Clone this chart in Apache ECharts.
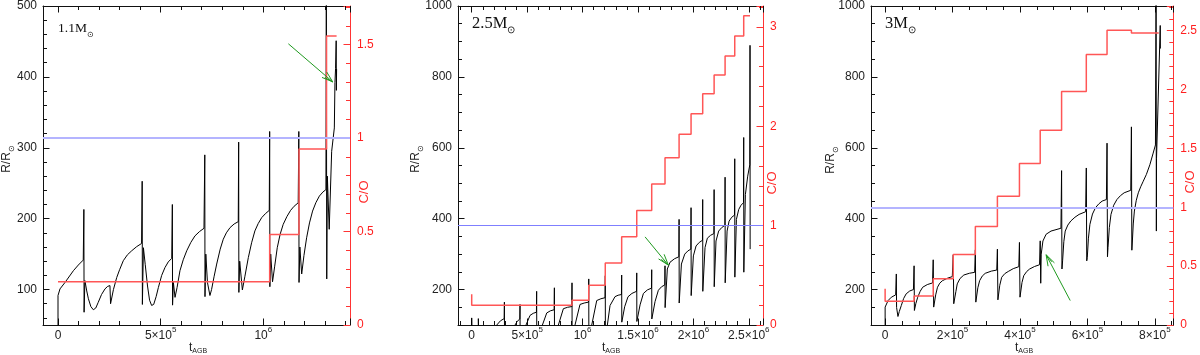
<!DOCTYPE html>
<html><head><meta charset="utf-8">
<script src="https://cdn.jsdelivr.net/npm/echarts@6/dist/echarts.min.js"></script>
<style>html,body{margin:0;padding:0;background:#fff;}#c{width:1200px;height:355px;}</style>
</head><body><div id="c"></div>
<script>
// ---------------- DATA ----------------
// Panel 1 : 1.1 Msun   [t_AGB (yr), R/Rsun]
const radius1 = [[0,40],[0,91.6],[0.0097e6,100.9],[0.034e6,110],[0.075e6,126.6],[0.099e6,134.6],[0.123e6,141.6],
 [0.126e6,213],[0.127e6,68],[0.131e6,112.6],[0.14e6,98],[0.148e6,87],[0.16e6,76],[0.172e6,71.5],[0.184e6,74],[0.196e6,82],[0.212e6,93],[0.229e6,101],[0.242e6,104.5],[0.253e6,105.6],
 [0.256e6,80],[0.270e6,100],[0.286e6,117],[0.300e6,128],[0.318e6,140.7],[0.338e6,149],[0.359e6,154.7],[0.383e6,160.5],[0.407e6,165],
 [0.410e6,252.8],[0.411e6,79],[0.416e6,159],[0.425e6,135],[0.436e6,105],[0.446e6,85],[0.456e6,77.6],[0.466e6,79],[0.478e6,90],[0.489e6,103],[0.505e6,120],[0.521e6,131],[0.537e6,139],[0.554e6,144],
 [0.557e6,220],[0.558e6,78],[0.562e6,110],[0.570e6,89],[0.58e6,103],[0.594e6,126.6],[0.61e6,142],[0.627e6,154.7],[0.647e6,166.5],[0.667e6,175.7],[0.69e6,182],[0.711e6,186.4],
 [0.715e6,290],[0.716e6,90],[0.720e6,150],[0.728e6,110],[0.740e6,91.6],[0.748e6,100],[0.760e6,118],[0.773e6,136],[0.79e6,157],[0.805e6,171],[0.82e6,180],[0.838e6,187.4],[0.858e6,192.5],[0.878e6,195.8],
 [0.880e6,308],[0.881e6,96],[0.885e6,140],[0.898e6,99.5],[0.91e6,118],[0.927e6,145],[0.943e6,166],[0.959e6,182.7],[0.975e6,193],[0.992e6,201.4],[1.01e6,207],[1.029e6,211.7],
 [1.031e6,323],[1.032e6,104],[1.036e6,150],[1.045e6,111],[1.055e6,132],[1.068e6,159],[1.082e6,178],[1.097e6,192],[1.115e6,203],[1.133e6,211.7],[1.15e6,217.5],[1.170e6,222.4],
 [1.173e6,323],[1.174e6,110],[1.178e6,160],[1.187e6,122],[1.198e6,148],[1.211e6,173],[1.225e6,194],[1.240e6,210.7],[1.256e6,222.5],[1.273e6,231.8],[1.29e6,237.5],[1.305e6,241],
 [1.307e6,520],[1.309e6,115],[1.312e6,260],[1.321e6,185],[1.333e6,295],[1.346e6,328],[1.349e6,392],[1.352e6,412],[1.355e6,451],[1.356e6,381],[1.357e6,411]];
const co1 = [[0,0.232],[1.031e6,0.484],[1.174e6,0.942],[1.308e6,1.546],[1.357e6,1.546]];
const arrow1 = [[1.122e6,446.7,1.338e6,393]];

// Panel 2 : 2.5 Msun
const radius2 = [[0,80],[0,120],[0.002e6,80],[0.06e6,85],[0.06e6,118],[0.062e6,80],[0.20e6,85],[0.226e6,100],[0.26e6,112],[0.293e6,118],
 [0.295e6,164.5],[0.296e6,60],[0.391e6,100],[0.41e6,110],[0.434e6,117],
 [0.436e6,158],[0.437e6,60],[0.49e6,100],[0.526e6,127],[0.555e6,133],[0.584e6,136],
 [0.586e6,195],[0.587e6,60],[0.638e6,100],[0.677e6,134],[0.71e6,140],[0.744e6,143],
 [0.746e6,205],[0.747e6,60],[0.782e6,100],[0.827e6,146],[0.865e6,150],[0.903e6,152],
 [0.905e6,219],[0.906e6,60],[0.932e6,100],[0.977e6,158],[1.015e6,162],[1.054e6,164.5],
 [1.056e6,230],[1.057e6,60],[1.083e6,100],[1.128e6,169],[1.165e6,174],[1.203e6,177],
 [1.205e6,239],[1.206e6,70],[1.224e6,100],[1.248e6,155],[1.293e6,180],[1.321e6,184],[1.351e6,186],
 [1.353e6,241],[1.354e6,108],[1.380e6,151.5],[1.41e6,179.6],[1.445e6,189],[1.487e6,195],
 [1.489e6,247],[1.490e6,110],[1.519e6,156.8],[1.549e6,189],[1.585e6,199],[1.622e6,204],
 [1.624e6,256],[1.625e6,117],[1.654e6,166],[1.684e6,198],[1.713e6,208],[1.742e6,213],
 [1.744e6,267],[1.745e6,149],[1.765e6,258],[1.789e6,277],[1.83e6,287],[1.869e6,292.5],
 [1.871e6,398],[1.872e6,162],[1.892e6,272],[1.922e6,300],[1.95e6,309],[1.977e6,314],
 [1.979e6,431],[1.980e6,183],[2.0e6,295],[2.024e6,323],[2.053e6,333],[2.082e6,339],
 [2.084e6,454],[2.085e6,195],[2.105e6,318.5],[2.126e6,345],[2.155e6,353],[2.185e6,358],
 [2.187e6,482],[2.188e6,208],[2.204e6,337],[2.228e6,365],[2.256e6,375],[2.284e6,381],
 [2.286e6,517],[2.287e6,219],[2.304e6,365],[2.322e6,393],[2.346e6,404],[2.371e6,410],
 [2.373e6,569],[2.374e6,235],[2.388e6,398],[2.409e6,426],[2.43e6,438],[2.452e6,445],
 [2.454e6,629],[2.455e6,249],[2.469e6,468],[2.490e6,520],[2.509e6,552],
 [2.511e6,889],[2.512e6,314]];
const co2 = [[0,0.309],[0,0.199],[0.905e6,0.249],[1.056e6,0.399],[1.205e6,0.625],[1.353e6,0.887],[1.489e6,1.153],[1.624e6,1.419],[1.744e6,1.684],[1.871e6,1.920],[1.979e6,2.126],[2.084e6,2.326],[2.187e6,2.515],[2.286e6,2.708],[2.373e6,2.907],[2.454e6,3.113],[2.511e6,3.113]];
const arrow2 = [[1.564e6,348.6,1.774e6,269]];

// Panel 3 : 3 Msun
const radius3 = [[0,100],[0,150.5],[0.088e5,169],[0.186e5,178.5],[0.313e5,185],
 [0.332e5,244],[0.340e5,149.6],[0.38e5,124],[0.42e5,138],[0.48e5,155],[0.55e5,175],[0.625e5,188],[0.73e5,196],[0.84e5,200],
 [0.859e5,267],[0.868e5,141],[0.91e5,160],[0.967e5,178.5],[1.04e5,195],[1.113e5,206.5],[1.25e5,214],[1.406e5,218.7],
 [1.426e5,284],[1.440e5,150.5],[1.465e5,152],[1.50e5,185],[1.553e5,206.5],[1.62e5,218],[1.699e5,225],[1.85e5,232],[1.992e5,236.5],
 [2.021e5,298],[2.035e5,160],[2.06e5,158],[2.10e5,195],[2.139e5,216],[2.22e5,231],[2.334e5,241],[2.5e5,246],[2.656e5,248.6],
 [2.676e5,312],[2.690e5,164.5],[2.705e5,169],[2.75e5,205],[2.803e5,225],[2.88e5,238],[2.969e5,245.8],[3.15e5,252],[3.311e5,255],
 [3.33e5,314],[3.345e5,171],[3.36e5,174],[3.40e5,212],[3.457e5,234.6],[3.55e5,245],[3.652e5,251],[3.8e5,259],[3.965e5,264.5],
 [3.984e5,333],[4.0e5,178.5],[4.014e5,183],[4.06e5,220],[4.111e5,239],[4.2e5,251],[4.287e5,258],[4.43e5,265],[4.58e5,270],
 [4.6e5,337.4],[4.615e5,217.8],[4.63e5,300],[4.68e5,337],[4.775e5,356],[4.92e5,365],[5.215e5,373],
 [5.234e5,535.5],[5.245e5,258],[5.264e5,281],[5.30e5,335],[5.342e5,365],[5.42e5,382],[5.508e5,393.5],[5.63e5,404],[5.752e5,412],[5.947e5,419.6],
 [5.967e5,543],[5.98e5,281],[5.996e5,290],[6.03e5,345],[6.074e5,384],[6.15e5,413],[6.24e5,431],[6.34e5,442],[6.436e5,449.5],[6.563e5,454],
 [6.582e5,613],[6.595e5,292.5],[6.611e5,318.7],[6.65e5,375],[6.699e5,412],[6.78e5,438],[6.875e5,454],[6.98e5,465],[7.09e5,473],[7.285e5,480],
 [7.305e5,659],[7.318e5,311],[7.334e5,337],[7.36e5,385],[7.393e5,421.5],[7.45e5,452],[7.51e5,473],[7.58e5,490],[7.656e5,505.6],[7.75e5,525],[7.852e5,552],[7.95e5,585],[8.018e5,608],
 [8.037e5,1050],[8.045e5,365],[8.05e5,570],[8.16e5,945],[8.165e5,880]];
const co3 = [[0,0.309],[0,0.202],[0.859e5,0.247],[1.426e5,0.393],[2.021e5,0.598],[2.676e5,0.836],[3.33e5,1.094],[3.984e5,1.372],[4.6e5,1.655],[5.234e5,1.984],[5.967e5,2.298],[6.582e5,2.503],[7.305e5,2.48],[8.115e5,2.48]];
const arrow3 = [[5.49e5,169,4.775e5,298]];

// Tick labels
const xTicks1 = [0, 5e5, 1e6];                    const xLabels1 = ['0','5×10^5','10^6'];
const xTicks2 = [0, 5e5, 1e6, 1.5e6, 2e6, 2.5e6]; const xLabels2 = ['0','5×10^5','10^6','1.5×10^6','2×10^6','2.5×10^6'];
const xTicks3 = [0, 2e5, 4e5, 6e5, 8e5];          const xLabels3 = ['0','2×10^5','4×10^5','6×10^5','8×10^5'];
const yTicks1 = [100,200,300,400,500];            const yLabels1 = ['100','200','300','400','500'];
const yTicks23 = [200,400,600,800,1000];          const yLabels23 = ['200','400','600','800','1000'];
const coTicks1 = [0,0.5,1,1.5];                   const coLabels1 = ['0','0.5','1','1.5'];
const coTicks2 = [0,1,2,3];                       const coLabels2 = ['0','1','2','3'];
const coTicks3 = [0,0.5,1,1.5,2,2.5];             const coLabels3 = ['0','0.5','1','1.5','2','2.5'];

// ---------------- CHART ----------------
const FONT = "'Liberation Sans', Arial, Helvetica, sans-serif";
const SERIF = "'Liberation Serif', 'Times New Roman', serif";
const RED = '#ff3434';
function toRich(s){ const i = s.indexOf('^'); return i<0 ? '{n|'+s+'}' : '{n|'+s.slice(0,i)+'}{s|'+s.slice(i+1)+'}'; }
function fmt(ticks, labels, step){ return function(v){ for (let i=0;i<ticks.length;i++){ if (Math.abs(v-ticks[i]) < step*1e-6) return toRich(labels[i]); } return ''; }; }
const RICH = { n:{fontSize:12, lineHeight:16, verticalAlign:'bottom', fontFamily:FONT}, s:{fontSize:8, lineHeight:9, verticalAlign:'top', fontFamily:FONT} };

function xAx(gi, min, max, step, minorSplit, ticks, labels, top){
  return { type:'value', gridIndex:gi, position: top?'top':'bottom', min:min, max:max,
    minInterval:step, maxInterval:step, splitNumber: Math.max(1, Math.round((max-min)/step)),
    axisLine:{show:true, onZero:false, lineStyle:{color:'#111', width:1}},
    axisTick:{show:true, inside:true, length:6.5, lineStyle:{color:'#111', width:1}},
    minorTick:{show:true, splitNumber:minorSplit, length:4, lineStyle:{color:'#111', width:1}},
    splitLine:{show:false}, minorSplitLine:{show:false},
    axisLabel:{show:!top, margin:1, color:'#222', fontFamily:FONT, fontSize:12, showMinLabel:true, showMaxLabel:true,
      formatter: fmt(ticks, labels, step), rich: RICH } };
}
function yAx(gi, right, min, max, step, minorSplit, ticks, labels){
  const c = right ? RED : '#111';
  return { type:'value', gridIndex:gi, position: right?'right':'left', min:min, max:max,
    minInterval:step, maxInterval:step, splitNumber: Math.max(1, Math.round((max-min)/step)),
    axisLine:{show:true, onZero:false, lineStyle:{color:c, width:1}},
    axisTick:{show:true, inside:true, length:6.5, lineStyle:{color:c, width:1}},
    minorTick:{show:true, splitNumber:minorSplit, length:4, lineStyle:{color:c, width:1}},
    splitLine:{show:false}, minorSplitLine:{show:false},
    axisLabel:{margin: right?7:6, color: right?'#ff2020':'#222', fontFamily:FONT, fontSize:12, showMinLabel:true, showMaxLabel:true,
      formatter: fmt(ticks, labels, step), rich: {n:{fontSize:12, fontFamily:FONT, color: right?'#ff2020':'#222'}} } };
}
function arrowSeries(xi, yi, data){
  return { type:'custom', xAxisIndex:xi, yAxisIndex:yi, data:data, silent:true, z:6,
    encode:{x:[0,2], y:[1,3]},
    renderItem: function(params, api){
      const p1 = api.coord([api.value(0), api.value(1)]);
      const p2 = api.coord([api.value(2), api.value(3)]);
      const dx = p2[0]-p1[0], dy = p2[1]-p1[1], L = Math.hypot(dx,dy), ux = dx/L, uy = dy/L;
      const h = 11, w = 3.6;
      const b1 = [p2[0]-ux*h-uy*w, p2[1]-uy*h+ux*w], b2 = [p2[0]-ux*h+uy*w, p2[1]-uy*h-ux*w];
      const st = {stroke:'#1f9a1f', lineWidth:1, fill:null};
      return { type:'group', children:[
        {type:'line', shape:{x1:p1[0], y1:p1[1], x2:p2[0], y2:p2[1]}, style:st},
        {type:'polyline', shape:{points:[b1,p2,b2]}, style:st},
        {type:'line', shape:{x1:p2[0]-ux*h*0.8-uy*w*0.5, y1:p2[1]-uy*h*0.8+ux*w*0.5, x2:p2[0], y2:p2[1]}, style:st}
      ]};
    } };
}
function panelSeries(i, radius, co, arrow, blueW, blueC){
  return [
    { type:'line', xAxisIndex:2*i, yAxisIndex:2*i, data:radius, symbol:'none', showSymbol:false, clip:true, z:3,
      lineStyle:{color:'#000', width:1}, animation:false },
    { type:'line', step:'end', xAxisIndex:2*i, yAxisIndex:2*i+1, data:co, symbol:'none', showSymbol:false, clip:true, z:4,
      lineStyle:{color:'#ff5656', width:1.5}, animation:false,
      markLine:{silent:true, symbol:'none', label:{show:false}, animation:false,
        lineStyle:{color:blueC, width:blueW, type:'solid'}, data:[{yAxis:1}]} },
    arrowSeries(2*i, 2*i, arrow)
  ];
}
function txt(x, y, text, rich, opts){
  return Object.assign({ type:'text', x:x, y:y, silent:true, z:10,
    style:{ text:text, rich:rich, align:'center', verticalAlign:'middle', fill:'#222' } }, opts||{});
}
const RR = {n:{fontSize:12, fontFamily:FONT, lineHeight:15, verticalAlign:'top', fill:'#222'}, s:{fontSize:8, fontFamily:FONT, verticalAlign:'bottom', fill:'#222'}};
const CO = {n:{fontSize:13, fontFamily:FONT, fill:'#ff2a2a'}};
const TA = {n:{fontSize:12, fontFamily:FONT, lineHeight:13, verticalAlign:'top', fill:'#222'}, s:{fontSize:7, fontFamily:FONT, verticalAlign:'bottom', fill:'#222'}};
function massRich(sz){ return {n:{fontSize:sz, fontFamily:SERIF, lineHeight:sz*1.25, verticalAlign:'top', fill:'#111'}, s:{fontSize:sz*0.62, fontFamily:FONT, verticalAlign:'bottom', fill:'#111'}}; }

const option = {
  animation:false,
  backgroundColor:'#fff',
  textStyle:{fontFamily:FONT},
  grid:[
    {left:43, top:3, width:307, height:322, show:false},
    {left:458, top:3, width:305, height:322, show:false},
    {left:871, top:3, width:306, height:322, show:false}
  ],
  xAxis:[
    xAx(0, -73100, 1422300, 5e5, 5, xTicks1, xLabels1, false),
    xAx(0, -73100, 1422300, 5e5, 5, xTicks1, xLabels1, true),
    xAx(1, -123600, 2628000, 5e5, 5, xTicks2, xLabels2, false),
    xAx(1, -123600, 2628000, 5e5, 5, xTicks2, xLabels2, true),
    xAx(2, -41900, 854800, 2e5, 4, xTicks3, xLabels3, false),
    xAx(2, -41900, 854800, 2e5, 4, xTicks3, xLabels3, true)
  ],
  yAxis:[
    yAx(0, false, 50, 500, 100, 5, yTicks1, yLabels1),
    yAx(0, true, 0, 1.707, 0.5, 5, coTicks1, coLabels1),
    yAx(1, false, 100, 1000, 200, 4, yTicks23, yLabels23),
    yAx(1, true, 0, 3.21, 1, 5, coTicks2, coLabels2),
    yAx(2, false, 100, 1000, 200, 4, yTicks23, yLabels23),
    yAx(2, true, 0, 2.71, 0.5, 5, coTicks3, coLabels3)
  ],
  series: [].concat(
    panelSeries(0, radius1, co1, arrow1, 2, '#b4b4ff'),
    panelSeries(1, radius2, co2, arrow2, 1, '#7f7fff'),
    panelSeries(2, radius3, co3, arrow3, 2, '#b4b4ff')
  ),
  graphic:[
    txt(8, 159, '{n|R/R}{s|⊙}', RR, {rotation:Math.PI/2}),
    txt(417, 159, '{n|R/R}{s|⊙}', RR, {rotation:Math.PI/2}),
    txt(832, 160, '{n|R/R}{s|⊙}', RR, {rotation:Math.PI/2}),
    txt(364, 192, '{n|C/O}', CO, {rotation:Math.PI/2}),
    txt(772, 183, '{n|C/O}', CO, {rotation:Math.PI/2}),
    txt(1190, 182, '{n|C/O}', CO, {rotation:Math.PI/2}),
    txt(198, 348, '{n|t}{s|AGB}', TA),
    txt(611, 348, '{n|t}{s|AGB}', TA),
    txt(1024, 348, '{n|t}{s|AGB}', TA),
    { type:'text', x:58, y:30, silent:true, z:10, style:{text:'{n|1.1M}{s|⊙}', rich:massRich(13.5), align:'left', verticalAlign:'middle'} },
    { type:'text', x:472, y:25, silent:true, z:10, style:{text:'{n|2.5M}{s|⊙}', rich:massRich(16.5), align:'left', verticalAlign:'middle'} },
    { type:'text', x:885, y:25, silent:true, z:10, style:{text:'{n|3M}{s|⊙}', rich:massRich(16.5), align:'left', verticalAlign:'middle'} }
  ]
};
const chart = echarts.init(document.getElementById('c'), null, {renderer:'canvas'});
chart.setOption(option);
</script>
</body></html>
